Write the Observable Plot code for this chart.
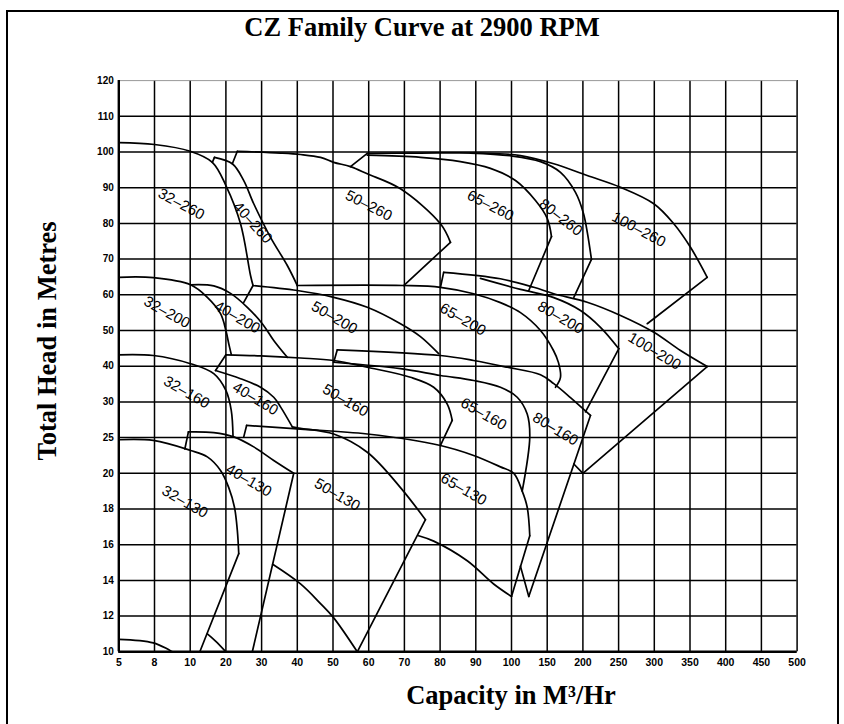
<!DOCTYPE html>
<html><head><meta charset="utf-8">
<script src="https://cdn.jsdelivr.net/npm/d3@7"></script>
<script src="https://cdn.jsdelivr.net/npm/@observablehq/plot@0.6"></script>
<style>
body{margin:0;background:#fff;}
#wrap{position:relative;width:844px;height:724px;overflow:hidden;background:#fff;}
#frame{position:absolute;left:6px;top:10px;width:829px;height:740px;border:2px solid #000;}
#chart{position:absolute;left:0;top:0;}
.t{position:absolute;font-family:"Liberation Serif","Times New Roman",serif;font-weight:bold;font-size:26.5px;white-space:nowrap;line-height:1;color:#000;}
#title{left:0;width:844px;text-align:center;top:14px;}
#xlab{left:361px;width:300px;text-align:center;top:682px;}
#ylab{left:47px;top:341px;transform:translate(-50%,-50%) rotate(-90deg);}
</style></head>
<body>
<div id="wrap">
  <div id="frame"></div>
  <div id="chart"></div>
  <div class="t" id="title">CZ Family Curve at 2900 RPM</div>
  <div class="t" id="ylab">Total Head in Metres</div>
  <div class="t" id="xlab">Capacity in M³/Hr</div>
</div>
<script>
// Axis tick values (unevenly spaced values on an even grid)
const xTicks = [5,8,10,20,30,40,50,60,70,80,90,100,150,200,250,300,350,400,450,500];
const yTicks = [10,12,14,16,18,20,25,30,40,50,60,70,80,90,100,110,120];

// Smooth curves [capacity m3/h, head m]
const c32_260 = [[5,102.6],[8,102.1],[10,100.2],[16.2,97.1],[20,90.6],[24.1,79.9],[26.9,65.4],[27.6,62.6]];
const c40_260 = [[16.8,98.5],[21.8,96.7],[25,92],[27.8,85.5],[32.5,76.1],[37.2,68.2],[40,62.6]];
const c50_260 = [[23.2,100.2],[35.3,99.7],[40.9,99.3],[46.5,98.5],[50.2,97.1],[54.9,95.9],[59.6,93.9],[68.9,89.7],[80.1,79.9],[82.9,74.7]];
const c100_260 = [[59.6,99.6],[74.5,99.7],[91.3,99.7],[112.6,99.0],[159.2,96.7],[206,93.4],[252.7,90.1],[299.3,85.5],[327.3,79.9],[350.7,73.3],[374.1,64.9]];
const c65_260 = [[59.6,99.1],[74.5,98.5],[85.7,97.3],[94.1,95.4],[105.6,92],[133.6,86.4],[150,81.4],[156,76.3]];
const c80_260 = [[88.5,99.7],[100,98.9],[140.6,97.3],[168.6,94.3],[189.6,88.7],[200.8,82.8],[206.4,77.2],[212,69.9]];

const c32_200 = [[5,64.9],[7.9,64.8],[10.1,62.8],[14.8,59.3],[18.5,54.7],[20,50],[20.8,46.3],[21.5,43.3]];
const c40_200 = [[10.1,62.8],[16.6,62.5],[21.3,60.4],[26,56.5],[30.2,51.9],[33.4,47.2],[37.2,42.5]];
const c50_200 = [[27.6,62.6],[40,61.2],[50.2,59.3],[59.6,56.5],[68.9,51.9],[74.5,48.3],[79.6,43.5]];
const c65_200 = [[40,62.6],[69.7,62.6],[80.1,62.1],[89.4,60.3],[96.9,57.8],[112.6,55],[140.6,50],[158.8,44.4],[165.8,41],[168.6,36.9],[161.6,34.1]];
const c100_200 = [[81,66.3],[96.9,64.5],[131.2,62.1],[159.2,60.3],[206,57.9],[252.7,54.2],[299.3,49.5],[336.7,44.4],[374.1,39.9]];
const c80_200 = [[91.3,64.6],[112.6,61.5],[159.2,59.2],[196.6,55.6],[224.6,50.9],[250.3,44.9]];

const c32_160 = [[5,43.2],[7.9,43],[10.1,40.7],[16.6,37.9],[20,33.2],[21.5,28.8],[22,25.1]];
const c40_160 = [[17.1,38.8],[24.1,36.5],[29.7,34.1],[33.4,31.3],[35.3,29.3],[38.6,26.5]];
const c50_160 = [[20,43.2],[29.7,42.9],[40.9,42.3],[50.2,41.6],[59.6,39.7],[71.7,36.9],[78.2,34.1],[82,29.7],[83.4,27.4]];
const c80_160 = [[51.2,44.6],[80.1,43],[89.4,41.6],[98.8,39.7],[140.6,37.6],[159.2,35.1],[182.6,31.2],[210.6,28.1]];
const c65_160 = [[50.2,41.1],[68.9,39.3],[80.1,37.4],[89.4,36],[96.9,34.1],[108,31.3],[122,28.3],[125.6,25.1],[115,19]];

const c32_130 = [[5,24.7],[7.9,24.6],[10.1,23.2],[14.8,22.3],[18.5,20.4],[20.8,19.2],[22.4,18.1],[23.2,16.8],[23.6,15.5]];
const c40_130 = [[9.9,25.8],[16.6,25.7],[22.2,25.1],[27.8,23.7],[33.4,21.8],[39,20]];
const c65_130 = [[25.8,26.7],[40.9,26.2],[59.6,25.5],[80.1,23.9],[89.4,22.5],[96.9,20.9],[103.2,20],[115,19],[122,18.1],[125.6,16.5]];
const c50_130 = [[38.6,26.5],[40.9,26.3],[50.2,25.5],[59.6,22.95],[68.9,19.2],[75.9,17.4]];
const lo65_130 = [[74,16.5],[78.2,16.2],[87.6,15.1],[95,13.8],[100,13.1]];
const lo50_130 = [[33.1,14.9],[40.9,13.8],[46.5,12.7],[50.2,11.9],[56.8,10]];
const loLeft = [[5,10.7],[7.9,10.5],[9,10]];
const loHook = [[14.8,11],[17.1,10.6],[20,10]];

// Straight boundary segments
const edges = [
  [[16.2,97.1],[16.8,98.5]],
  [[21.8,96.7],[23.2,100.2]],
  [[82.9,74.7],[69.8,62.6]],
  [[54.9,95.9],[59.6,99.6]],
  [[374.1,64.9],[290.1,51.9]],
  [[156,76.3],[124.2,61.2]],
  [[212,69.9],[187.3,59.3]],
  [[25,57.9],[27.6,62.6]],
  [[80.1,62.1],[81,66.3]],
  [[250.3,44.9],[203.6,28.6]],
  [[374.1,39.9],[200,20]],
  [[187.3,21.3],[200,20]],
  [[17.1,38.8],[20,43.2]],
  [[83.4,27.4],[80.1,23.9]],
  [[50.2,41.1],[51.2,44.6]],
  [[210.6,28.1],[124.2,13.1]],
  [[23.6,15.5],[12.7,10]],
  [[9.7,23.4],[9.9,25.8]],
  [[39,20],[27.4,10]],
  [[25,25.1],[25.8,26.7]],
  [[125.6,16.5],[100,13.1]],
  [[112.5,14.8],[124.2,13.1]],
  [[75.9,17.4],[56.8,10]]
];

// Model labels
const labelText  = ["32–260","40–260","50–260","65–260","80–260","100–260",
                    "32–200","40–200","50–200","65–200","80–200","100–200",
                    "32–160","40–160","50–160","65–160","80–160",
                    "32–130","40–130","50–130","65–130"];
const labelX     = [9.5,27.5,60,94.1,168.9,278.3, 8.7,23.2,50.4,86.4,168.9,300.4, 9.8,28.3,53.5,92.2,161.6, 9.7,26.4,51.2,86.6];
const labelY     = [85.4,80.2,85,85,81.7,78.3, 55.1,53.7,53.6,53.1,53.6,44.2, 32.7,30.9,30.4,28.3,26.2, 18.4,19.6,18.8,19.1];
const labelAngle = [28,48,27,27,38,28, 29,30,30,30,30,31, 30,31,30,30,31, 30,30,30,30];

const smooth = {c32_260,c40_260,c50_260,c100_260,c65_260,c80_260,c32_200,c40_200,c50_200,c65_200,c100_200,c80_200,
  c32_160,c40_160,c50_160,c80_160,c65_160,c32_130,c40_130,c65_130,c50_130,lo65_130,lo50_130,loLeft,loHook};
const smoothRows = Object.entries(smooth).flatMap(([id, pts]) => pts.map(([x, y]) => ({id, x, y})));
const edgeRows = edges.flatMap((pts, k) => pts.map(([x, y]) => ({id: "e" + k, x, y})));
const labelIdx = labelText.map((_, i) => i);

const W = 844, H = 724, mL = 118.3, mT = 80.1, step = 35.7;
const plotW = step * (xTicks.length - 1), plotH = step * (yTicks.length - 1);

const chart = Plot.plot({
  width: W, height: H,
  marginLeft: mL, marginTop: mT,
  marginRight: W - mL - plotW, marginBottom: H - mT - plotH,
  style: {fontFamily: "'Liberation Sans', Arial, sans-serif", fontSize: "10px", fontWeight: "bold", background: "transparent", color: "#000", overflow: "visible"},
  x: {type: "linear", domain: xTicks, range: xTicks.map((_, i) => mL + i * step)},
  y: {type: "linear", domain: yTicks, range: yTicks.map((_, j) => mT + plotH - j * step)},
  marks: [
    Plot.gridX(xTicks, {stroke: "#000", strokeOpacity: 1, strokeWidth: 1.5}),
    Plot.gridY(yTicks.filter(d => d < 120), {stroke: "#000", strokeOpacity: 1, strokeWidth: 1.5}),
    Plot.ruleY([120], {stroke: "#999", strokeWidth: 1}),
    Plot.ruleX([5], {stroke: "#000", strokeWidth: 2.4}),
    Plot.ruleY([10], {stroke: "#000", strokeWidth: 2.4}),
    Plot.axisX(xTicks, {tickSize: 0, tickPadding: 7, tickFormat: d => String(d), fontSize: 10.5, fontWeight: "bold", label: null}),
    Plot.axisY(yTicks, {tickSize: 0, tickPadding: 5, tickFormat: d => String(d), fontSize: 10, fontWeight: "bold", label: null}),
    Plot.line(smoothRows, {x: "x", y: "y", z: "id", curve: "catmull-rom", stroke: "#000", strokeWidth: 1.7}),
    Plot.line(edgeRows, {x: "x", y: "y", z: "id", curve: "linear", stroke: "#000", strokeWidth: 1.7}),
    Plot.text(labelIdx, {x: i => labelX[i], y: i => labelY[i], text: i => labelText[i], rotate: i => labelAngle[i],
      fontSize: 15, fontWeight: "normal", fontFamily: "'Liberation Sans', Arial, sans-serif", fill: "#000"})
  ]
});
document.getElementById("chart").appendChild(chart);
</script>
</body></html>
